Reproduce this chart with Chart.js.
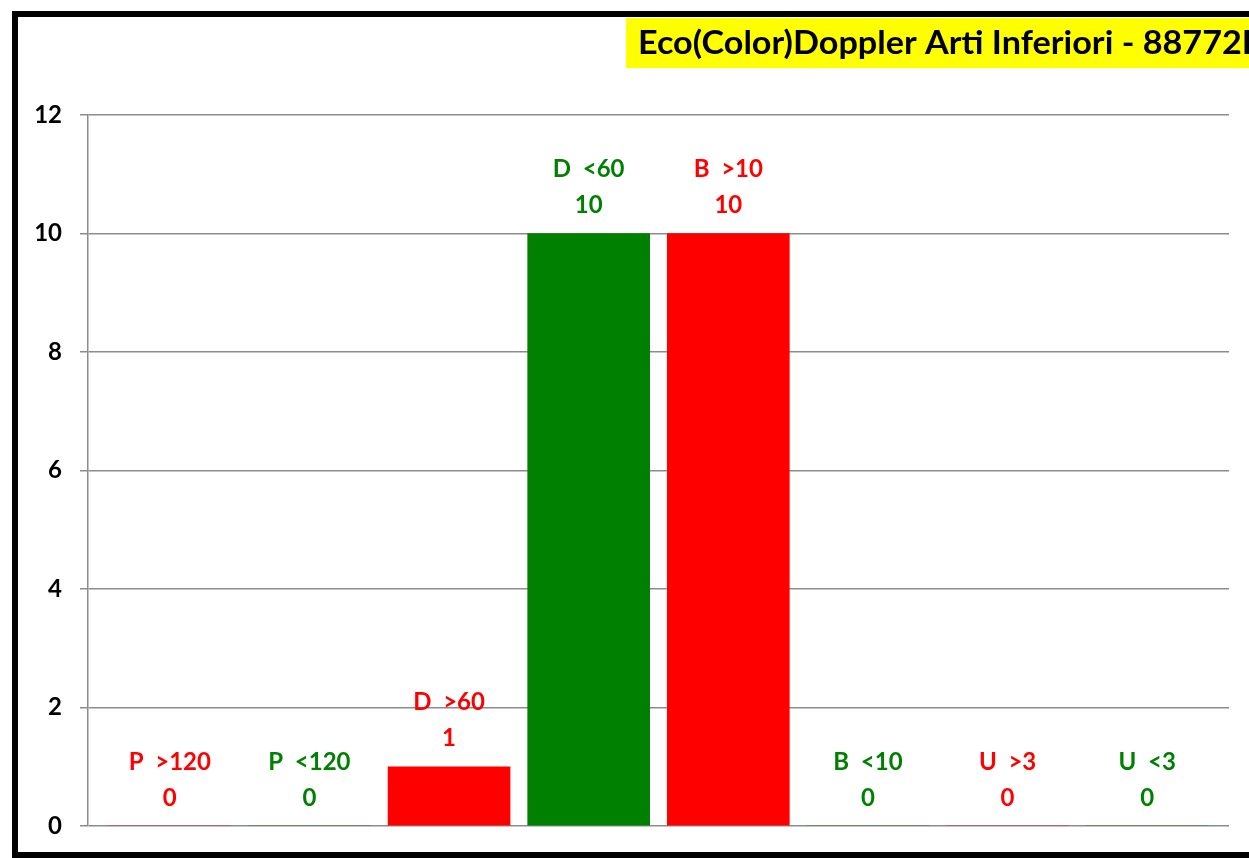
<!DOCTYPE html>
<html>
<head>
<meta charset="utf-8">
<script src="https://cdn.jsdelivr.net/npm/chart.js@4/dist/chart.umd.min.js"></script>
<style>
  html, body { margin: 0; padding: 0; background: #fff; overflow: hidden; }
  #wrap { position: absolute; left: 0; top: 0; width: 1249px; height: 858px; }
</style>
</head>
<body>
<div id="wrap"><canvas id="c" width="1249" height="858"></canvas></div>
<script>
const chartTitle = "Eco(Color)Doppler Arti Inferiori - 88772I";
const categories = ["P  >120", "P  <120", "D  >60", "D  <60", "B  >10", "B  <10", "U  >3", "U  <3"];
const values = [0, 0, 1, 10, 10, 0, 0, 0];
const barColors = ["#FF0000", "#008000", "#FF0000", "#008000", "#FF0000", "#008000", "#FF0000", "#008000"];
const yTicks = [0, 2, 4, 6, 8, 10, 12];

const FONT = "Lato, 'Liberation Sans', sans-serif";

const framePlugin = {
  id: 'frame',
  beforeDraw(chart) {
    const ctx = chart.ctx;
    ctx.save();
    ctx.fillStyle = '#fff';
    ctx.fillRect(0, 0, chart.width, chart.height);
    ctx.restore();
  },
  afterDraw(chart) {
    const ctx = chart.ctx;
    ctx.save();
    ctx.strokeStyle = '#000';
    ctx.lineWidth = 6;
    ctx.strokeRect(15, 14, 1260, 841);
    ctx.fillStyle = '#FFFF00';
    ctx.fillRect(626, 18, 640, 50);
    ctx.fillStyle = '#000';
    ctx.font = "bold 32px " + FONT;
    ctx.textBaseline = 'middle';
    ctx.textAlign = 'left';
    const w = ctx.measureText(chartTitle).width;
    const target = 614;
    ctx.translate(638, 44);
    ctx.scale(target / w, 1);
    ctx.fillText(chartTitle, 0, 0);
    ctx.restore();
  }
};

const labelPlugin = {
  id: 'barLabels',
  afterDatasetsDraw(chart) {
    const ctx = chart.ctx;
    const meta = chart.getDatasetMeta(0);
    ctx.save();
    ctx.font = "bold 24px " + FONT;
    ctx.textAlign = 'center';
    ctx.textBaseline = 'middle';
    meta.data.forEach((bar, i) => {
      ctx.fillStyle = barColors[i];
      ctx.fillText(categories[i], bar.x, bar.y - 64);
      ctx.fillText(String(values[i]), bar.x, bar.y - 28);
    });
    ctx.restore();
  }
};

new Chart(document.getElementById('c'), {
  type: 'bar',
  data: {
    datasets: [{
      data: values.map((v, i) => ({ x: i, y: v })),
      backgroundColor: barColors,
      borderWidth: 0,
      barThickness: 122
    }]
  },
  options: {
    responsive: false,
    animation: false,
    layout: { padding: { left: 0, right: 20, top: 115, bottom: 32 } },
    plugins: { legend: { display: false }, tooltip: { enabled: false } },
    scales: {
      x: {
        type: 'linear',
        display: false,
        offset: false,
        min: -0.586,
        max: 7.586
      },
      y: {
        min: 0,
        max: 12,
        afterBuildTicks(scale) { scale.ticks = yTicks.map(v => ({ value: v })); },
        afterFit(scale) {
          scale.width = 88;
          scale.paddingTop = 0;
          scale.paddingBottom = 0;
        },
        ticks: {
          color: '#000',
          padding: 18,
          font: { family: FONT, size: 24, weight: 'bold' }
        },
        grid: { color: '#8c8c8c', lineWidth: 1.5, tickLength: 8 },
        border: { color: '#8c8c8c', width: 1.5 }
      }
    }
  },
  plugins: [framePlugin, labelPlugin]
});
</script>
</body>
</html>
